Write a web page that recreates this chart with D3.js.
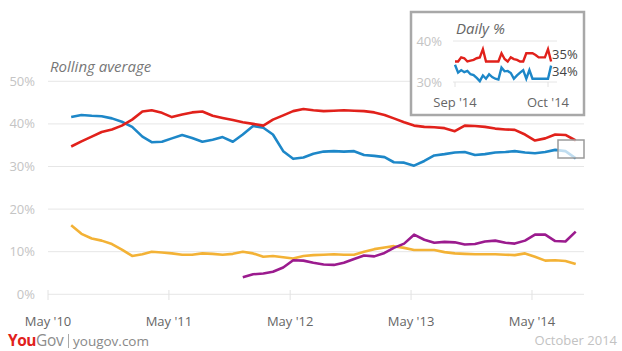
<!DOCTYPE html>
<html lang="en">

<head>
    <meta charset="UTF-8">
    <title>Voting intention</title>
    <script src="https://d3js.org/d3.v7.min.js"></script>
    <style>
        body {
            margin: 0;
            background: #fff;
        }

        svg {
            font-family: "Open Sans", sans-serif;
        }
    </style>
</head>

<body>
    <svg id="chart" width="622" height="351"></svg>

    <script>
        // monthly rolling average (10th of each month)
        const months = [
            "2010-07", "2010-08", "2010-09", "2010-10", "2010-11", "2010-12",
            "2011-01", "2011-02", "2011-03", "2011-04", "2011-05", "2011-06", "2011-07", "2011-08", "2011-09", "2011-10", "2011-11", "2011-12",
            "2012-01", "2012-02", "2012-03", "2012-04", "2012-05", "2012-06", "2012-07", "2012-08", "2012-09", "2012-10", "2012-11", "2012-12",
            "2013-01", "2013-02", "2013-03", "2013-04", "2013-05", "2013-06", "2013-07", "2013-08", "2013-09", "2013-10", "2013-11", "2013-12",
            "2014-01", "2014-02", "2014-03", "2014-04", "2014-05", "2014-06", "2014-07", "2014-08", "2014-09"
        ];
        const labour = [34.7, 35.9, 37.0, 38.1, 38.7, 39.6, 41.0, 42.9, 43.2, 42.6, 41.6, 42.2, 42.7, 42.9, 41.9, 41.4, 40.9, 40.4,
            40.0, 39.6, 41.0, 42.0, 43.0, 43.5, 43.2, 43.0, 43.1, 43.2, 43.1, 43.0, 42.7, 42.1, 41.3, 40.4, 39.6, 39.3,
            39.2, 39.0, 38.3, 39.6, 39.5, 39.3, 38.9, 38.7, 38.6, 37.5, 36.1, 36.6, 37.5, 37.4, 36.1];
        const conservative = [41.6, 42.1, 41.9, 41.8, 41.3, 40.5, 39.3, 37.0, 35.7, 35.8, 36.6, 37.4, 36.7, 35.8, 36.3, 36.9, 35.8, 37.5,
            39.5, 39.1, 37.5, 33.6, 31.8, 32.1, 33.0, 33.5, 33.6, 33.5, 33.6, 32.7, 32.5, 32.2, 31.0, 30.9, 30.2, 31.3,
            32.6, 32.9, 33.3, 33.4, 32.7, 32.9, 33.3, 33.4, 33.6, 33.3, 33.1, 33.4, 33.9, 33.6, 31.9];
        const libDem = [16.2, 14.2, 13.1, 12.6, 11.8, 10.5, 9.0, 9.4, 10.0, 9.8, 9.6, 9.3, 9.3, 9.6, 9.5, 9.3, 9.5, 10.0,
            9.6, 8.8, 9.0, 8.7, 8.4, 9.0, 9.2, 9.3, 9.4, 9.3, 9.3, 10.0, 10.6, 11.0, 11.3, 10.9, 10.4, 10.4,
            10.4, 9.9, 9.6, 9.5, 9.4, 9.4, 9.4, 9.3, 9.2, 9.6, 8.8, 7.9, 8.0, 7.8, 7.1];
        const ukip = [null, null, null, null, null, null, null, null, null, null, null, null, null, null, null, null, null, 4.0,
            4.7, 4.9, 5.3, 6.3, 8.0, 7.9, 7.4, 7.0, 6.9, 7.4, 8.3, 9.1, 8.9, 9.7, 10.9, 11.9, 14.0, 12.8,
            12.1, 12.3, 12.2, 11.7, 11.8, 12.4, 12.6, 12.1, 11.9, 12.6, 14.0, 14.0, 12.5, 12.4, 14.7];

        const yTicks = [0, 10, 20, 30, 40, 50];
        const xTickLabels = ["May '10", "May '11", "May '12", "May '13", "May '14"];
        const xTickDates = ["2010-05-01", "2011-05-01", "2012-05-01", "2013-05-01", "2014-05-01"];

        // inset: daily figures, 1 Sep - 2 Oct 2014
        const dailyDays = ["09-01", "09-02", "09-03", "09-04", "09-05", "09-06", "09-07", "09-08", "09-09", "09-10", "09-11",
            "09-12", "09-13", "09-14", "09-15", "09-16", "09-17", "09-18", "09-19", "09-20", "09-21", "09-22",
            "09-23", "09-24", "09-25", "09-26", "09-27", "09-28", "09-29", "09-30", "10-01", "10-02"];
        const dailyLabour = [35, 35, 36, 35.8, 35, 35.2, 35.4, 35.8, 36, 38, 35, 35, 35, 35, 35, 37,
            35.6, 35, 36, 35.6, 35.4, 35, 35, 37, 37, 37, 36.6, 36, 36, 36, 38, 35];
        const dailyConservative = [34.2, 32.3, 32.9, 32.4, 32.7, 31.9, 31.7, 31, 30.2, 31.6, 30.8, 31.9, 31.2, 30.8, 30.6, 33.5,
            32.6, 32.7, 32.2, 30.8, 31.6, 32.3, 32.9, 30.8, 32.9, 30.8, 30.8, 30.8, 30.8, 30.8, 30.8, 34];
        const insetYTicks = [30, 40];
        const insetXTickLabels = ["Sep '14", "Oct '14"];
        const insetXTickDates = ["09-01", "10-01"];

        const colors = { lab: "#e1211b", con: "#1d87c8", ld: "#f3b236", ukip: "#9b1b8e" };

        const svg = d3.select("#chart");
        const parseDate = d3.timeParse("%Y-%m-%d");

        const dates = months.map(m => parseDate(m + "-10"));

        const x = d3.scaleTime()
            .domain([parseDate("2010-05-01"), parseDate("2014-10-05")])
            .range([48, 584]);
        const y = d3.scaleLinear()
            .domain([0, 50])
            .range([294.3, 81.3]);

        // gridlines
        svg.append("g")
            .selectAll("line")
            .data(yTicks)
            .join("line")
            .attr("x1", 48).attr("x2", 584)
            .attr("y1", d => y(d)).attr("y2", d => y(d))
            .attr("stroke", "#e6e6e6")
            .attr("stroke-width", 1);

        // y labels
        svg.append("g")
            .selectAll("text")
            .data(yTicks)
            .join("text")
            .attr("x", 35)
            .attr("y", d => y(d))
            .attr("dy", "0.35em")
            .attr("text-anchor", "end")
            .attr("fill", "#c4c4c4")
            .style("font-size", "13px")
            .text(d => d + "%");

        // x axis ticks & labels
        const xt = xTickDates.map(d => parseDate(d));
        svg.append("g")
            .selectAll("line")
            .data(xt)
            .join("line")
            .attr("x1", d => x(d)).attr("x2", d => x(d))
            .attr("y1", 290).attr("y2", 300)
            .attr("stroke", "#e2e2e2");
        svg.append("g")
            .selectAll("text")
            .data(xt)
            .join("text")
            .attr("x", d => x(d))
            .attr("y", 326)
            .attr("text-anchor", "middle")
            .attr("fill", "#666")
            .style("font-size", "13px")
            .text((d, i) => xTickLabels[i]);

        svg.append("text")
            .attr("x", 50)
            .attr("y", 72)
            .attr("fill", "#777")
            .style("font-size", "15px")
            .style("font-style", "italic")
            .text("Rolling average");

        // lines
        const line = d3.line()
            .defined(d => d[1] != null)
            .x(d => x(d[0]))
            .y(d => y(d[1]));

        const series = [
            { key: "ld", values: libDem },
            { key: "ukip", values: ukip },
            { key: "con", values: conservative },
            { key: "lab", values: labour }
        ];
        svg.append("g")
            .selectAll("path")
            .data(series)
            .join("path")
            .attr("fill", "none")
            .attr("stroke", d => colors[d.key])
            .attr("stroke-width", 2.6)
            .attr("stroke-linejoin", "round")
            .attr("d", d => line(dates.map((t, i) => [t, d.values[i]])));

        // zoom box on last month
        svg.append("rect")
            .attr("x", 558).attr("y", 140)
            .attr("width", 26).attr("height", 18)
            .attr("fill", "rgba(255,255,255,0.72)")
            .attr("stroke", "#9a9a9a")
            .attr("stroke-width", 1.5);

        // inset
        const inset = svg.append("g");
        inset.append("rect")
            .attr("x", 411).attr("y", 12)
            .attr("width", 173).attr("height", 103)
            .attr("fill", "#fff")
            .attr("stroke", "#a8a8a8")
            .attr("stroke-width", 2.5);

        inset.append("text")
            .attr("x", 456).attr("y", 34)
            .attr("fill", "#666")
            .style("font-size", "15px")
            .style("font-style", "italic")
            .text("Daily %");

        const dx = d3.scaleTime()
            .domain([parseDate("2014-09-01"), parseDate("2014-10-01")])
            .range([455, 548]);
        const dy = d3.scaleLinear()
            .domain([30, 40])
            .range([82, 41]);

        inset.append("g")
            .selectAll("line")
            .data(insetYTicks)
            .join("line")
            .attr("x1", 453).attr("x2", 557)
            .attr("y1", d => dy(d)).attr("y2", d => dy(d))
            .attr("stroke", "#e6e6e6");
        inset.append("g")
            .selectAll("text")
            .data(insetYTicks)
            .join("text")
            .attr("x", 442)
            .attr("y", d => dy(d))
            .attr("dy", "0.35em")
            .attr("text-anchor", "end")
            .attr("fill", "#c4c4c4")
            .style("font-size", "13px")
            .text(d => d + "%");

        const ixt = insetXTickDates.map(d => parseDate("2014-" + d));
        inset.append("g")
            .selectAll("line")
            .data(ixt)
            .join("line")
            .attr("x1", d => dx(d)).attr("x2", d => dx(d))
            .attr("y1", 82).attr("y2", 87)
            .attr("stroke", "#e2e2e2");
        inset.append("g")
            .selectAll("text")
            .data(ixt)
            .join("text")
            .attr("x", d => dx(d))
            .attr("y", 107)
            .attr("text-anchor", "middle")
            .attr("fill", "#666")
            .style("font-size", "13px")
            .text((d, i) => insetXTickLabels[i]);

        const days = dailyDays.map(d => parseDate("2014-" + d));
        const dline = d3.line()
            .x(d => dx(d[0]))
            .y(d => dy(d[1]));
        const daily = [
            { key: "con", values: dailyConservative },
            { key: "lab", values: dailyLabour }
        ];
        inset.append("g")
            .selectAll("path")
            .data(daily)
            .join("path")
            .attr("fill", "none")
            .attr("stroke", d => colors[d.key])
            .attr("stroke-width", 2.4)
            .attr("d", d => dline(days.map((t, i) => [t, d.values[i]])));

        const lastX = dx(days[days.length - 1]);
        inset.append("text")
            .attr("x", lastX + 1)
            .attr("y", dy(dailyLabour[dailyLabour.length - 1]) - 7)
            .attr("dy", "0.35em")
            .attr("fill", "#444")
            .style("font-size", "13px")
            .text(dailyLabour[dailyLabour.length - 1] + "%");
        inset.append("text")
            .attr("x", lastX + 1)
            .attr("y", dy(dailyConservative[dailyConservative.length - 1]) + 6)
            .attr("dy", "0.35em")
            .attr("fill", "#444")
            .style("font-size", "13px")
            .text(dailyConservative[dailyConservative.length - 1] + "%");

        // footer
        const logo = svg.append("text")
            .attr("x", 8)
            .attr("y", 346)
            .style("font-size", "15.5px");
        logo.append("tspan").attr("fill", "#e1211b").style("font-weight", "bold").style("letter-spacing", "-0.5px").text("You");
        logo.append("tspan").attr("fill", "#8c8c8c").style("letter-spacing", "-0.3px").text("Gov");
        svg.append("line")
            .attr("x1", 68.5).attr("x2", 68.5)
            .attr("y1", 334).attr("y2", 348)
            .attr("stroke", "#aaa");
        svg.append("text")
            .attr("x", 73)
            .attr("y", 346)
            .attr("fill", "#888")
            .style("font-size", "13.5px")
            .text("yougov.com");

        svg.append("text")
            .attr("x", 617)
            .attr("y", 345)
            .attr("text-anchor", "end")
            .attr("fill", "#c2c2c2")
            .style("font-size", "13px")
            .text("October 2014");
    </script>
</body>

</html>
